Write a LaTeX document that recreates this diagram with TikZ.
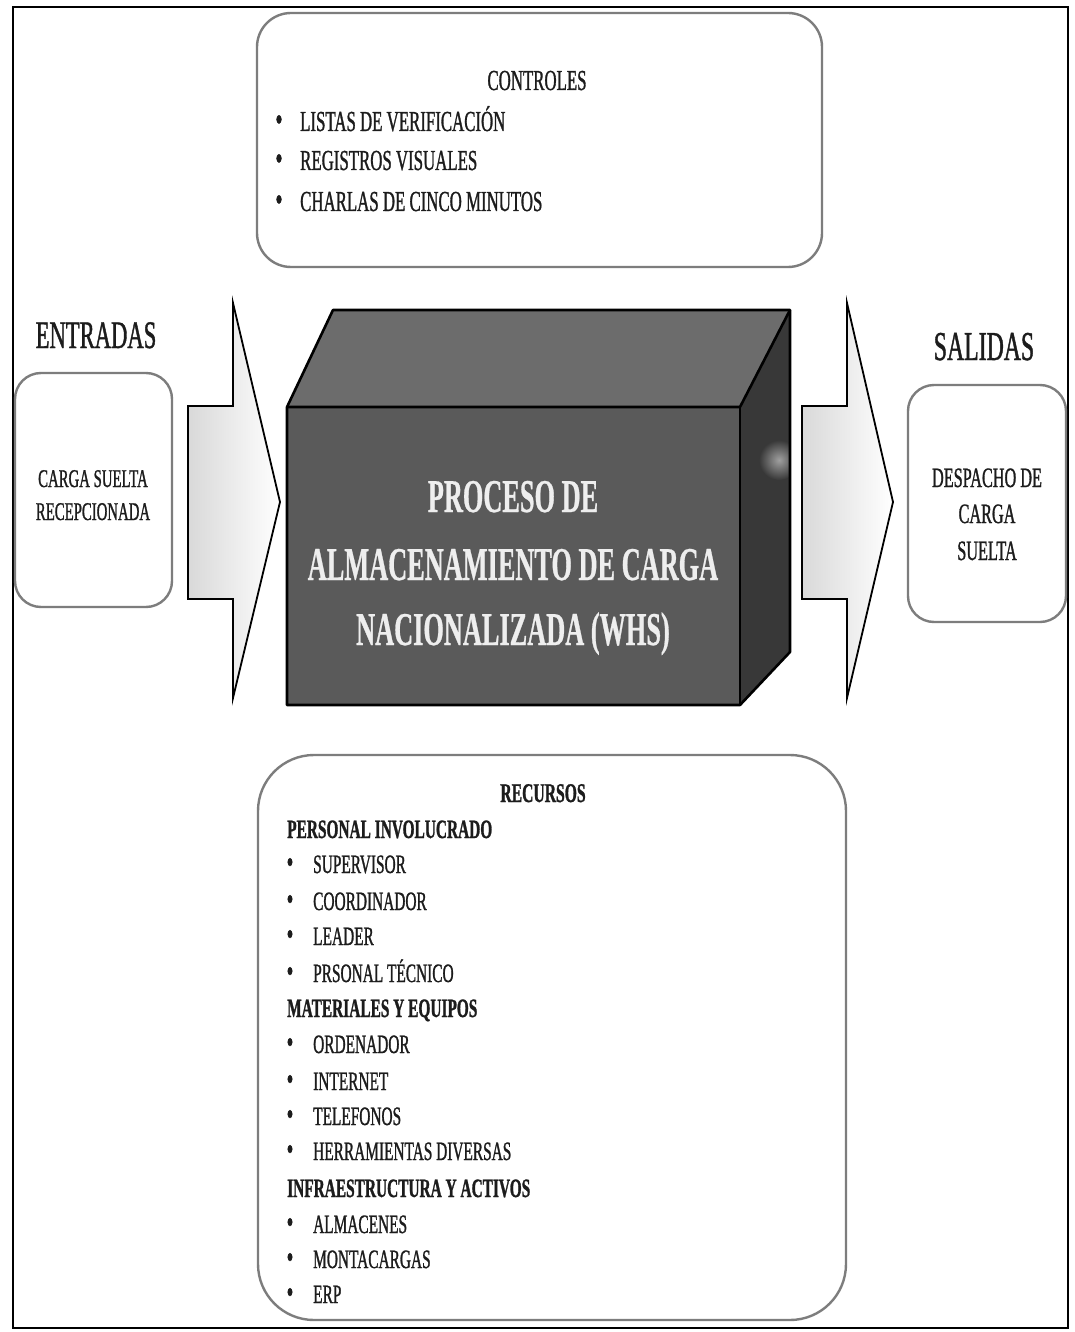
\documentclass[tikz,border=0pt]{standalone}
\usepackage{fontspec}
\setmainfont{Liberation Serif}[FakeStretch=0.58, FakeBold=1]
\newfontfamily\titlefont{Liberation Serif}[FakeStretch=0.56, FakeBold=0.6]
\newcommand\fsz[1]{\fontsize{#1}{#1}\selectfont}
\definecolor{boxline}{RGB}{125,125,125}
\definecolor{frontface}{RGB}{90,90,90}
\definecolor{topface}{RGB}{108,108,108}
\definecolor{sideface}{RGB}{56,56,56}
\definecolor{titletext}{RGB}{238,238,238}
\definecolor{ink}{RGB}{28,28,28}

\begin{document}
\begin{tikzpicture}[x=1pt,y=-1pt,
  softbox/.style={draw=boxline, line width=2.4pt, fill=white},
  bigarrow/.style={draw=black, line width=1.8pt, line join=miter, left color=gray!30, right color=white},
  cubeedge/.style={draw=black, line width=2.6pt, line join=round},
  lbl/.style={inner sep=0pt, text=ink, anchor=base},
  item/.style={lbl, anchor=base west, font=\fsz{26.5}},
  bul/.style={lbl, font=\fsz{33}},
  head/.style={lbl, anchor=base west, font=\fsz{26.5}\bfseries},
  bigtitle/.style={inner sep=0pt, anchor=base, text=titletext, font=\titlefont\fsz{47}\bfseries},
]
\useasboundingbox (0,0) rectangle (1074,1332);
\fill[white] (0,0) rectangle (1074,1332);

% outer frame
\draw[line width=1.6pt] (13,7) rectangle (1068,1328);

% rounded panels
\draw[softbox, rounded corners=34pt] (257,13) rectangle (822,267);
\draw[softbox, rounded corners=26pt] (15,373) rectangle (172,607);
\draw[softbox, rounded corners=26pt] (908,385) rectangle (1066,622);
\draw[softbox, rounded corners=56pt] (258,755) rectangle (846,1320);

% block arrows
\draw[bigarrow] (188,406) -- (233,406) -- (233,303) -- (280,502) -- (233,698)
  -- (233,599) -- (188,599) -- cycle;
\draw[bigarrow] (802,406) -- (847,406) -- (847,303) -- (893,502) -- (847,698)
  -- (847,599) -- (802,599) -- cycle;

% process block
\coordinate (ftl) at (287,407);
\coordinate (ftr) at (740,407);
\coordinate (fbl) at (287,705);
\coordinate (fbr) at (740,705);
\coordinate (btl) at (333,310);
\coordinate (btr) at (790,310);
\coordinate (bbr) at (790,652);
\fill[topface] (ftl) -- (btl) -- (btr) -- (ftr) -- cycle;
\fill[frontface] (ftl) rectangle (fbr);
\begin{scope}
  \clip (ftr) -- (btr) -- (bbr) -- (fbr) -- cycle;
  \fill[sideface] (ftr) -- (btr) -- (bbr) -- (fbr) -- cycle;
  \shade[inner color=gray!75, outer color=sideface] (779,460) circle (20);
\end{scope}
\draw[cubeedge] (ftl) -- (btl) -- (btr) -- (bbr) -- (fbr) -- (fbl) -- cycle;
\draw[cubeedge] (ftl) -- (ftr) -- (btr);
\draw[cubeedge] (ftr) -- (fbr);

\node[bigtitle] (proc1) at (513,512) {PROCESO DE};
\node[bigtitle] (proc2) at (513,580) {ALMACENAMIENTO DE CARGA};
\node[bigtitle] (proc3) at (513,645) {NACIONALIZADA (WHS)};

% inputs and outputs
\node[lbl, font=\fsz{39}] (entradas) at (96,348) {ENTRADAS};
\node[lbl, font=\fsz{41}] (salidas) at (984,360) {SALIDAS};
\node[lbl, font=\fsz{25.5}] (in1) at (93,487) {CARGA SUELTA};
\node[lbl, font=\fsz{25.5}] (in2) at (93,520) {RECEPCIONADA};
\node[lbl, font=\fsz{28}] (out1) at (987,487) {DESPACHO DE};
\node[lbl, font=\fsz{28}] (out2) at (987,523) {CARGA};
\node[lbl, font=\fsz{28}] (out3) at (987,560) {SUELTA};

% controls
\node[lbl, font=\fsz{29}] (ctl) at (537,90) {CONTROLES};
\foreach \t/\y [count=\i] in {LISTAS DE VERIFICACIÓN/131, REGISTROS VISUALES/170, CHARLAS DE CINCO MINUTOS/211} {
  \node[bul, font=\fsz{35}] (ctlb\i) at (279,\y) {•};
  \node[item, font=\fsz{29}] (ctli\i) at (300,\y) {\t};
}

% resources
\node[lbl, font=\fsz{27}\bfseries] (rec) at (543,802) {RECURSOS};
\foreach \t/\y [count=\i] in {PERSONAL INVOLUCRADO/838, MATERIALES Y EQUIPOS/1017, INFRAESTRUCTURA Y ACTIVOS/1197}
  \node[head] (rh\i) at (287,\y) {\t};
\foreach \t/\y [count=\i] in {SUPERVISOR/873, COORDINADOR/910, LEADER/945, PRSONAL TÉCNICO/982,
    ORDENADOR/1053, INTERNET/1090, TELEFONOS/1125, HERRAMIENTAS DIVERSAS/1160,
    ALMACENES/1233, MONTACARGAS/1268, ERP/1303} {
  \node[bul] (rb\i) at (290,\y) {•};
  \node[item] (ri\i) at (313,\y) {\t};
}
\end{tikzpicture}
\end{document}
